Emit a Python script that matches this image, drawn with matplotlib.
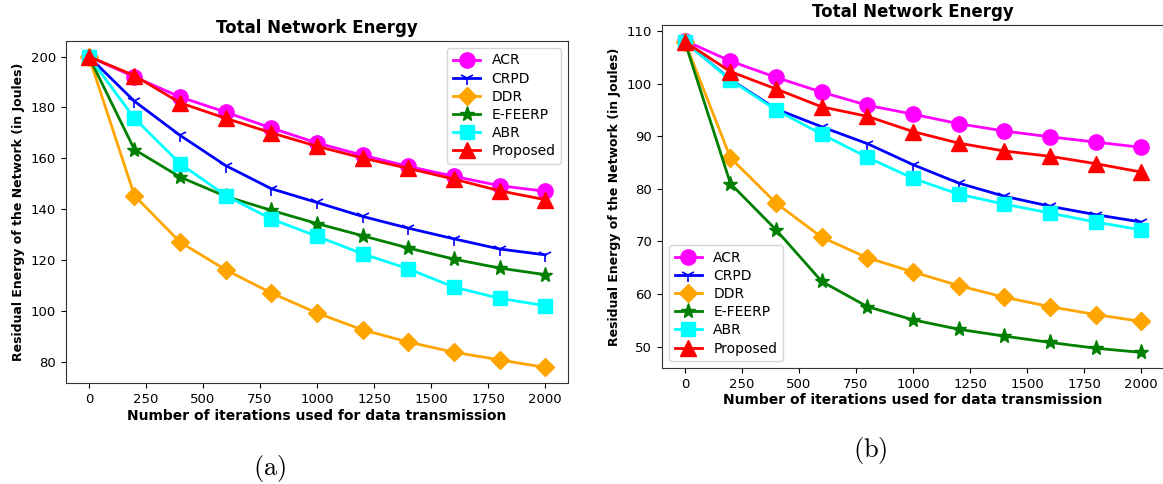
import matplotlib
matplotlib.use("Agg")
import matplotlib.pyplot as plt

iterations = [0, 200, 400, 600, 800, 1000, 1200, 1400, 1600, 1800, 2000]

# Panel (a)
acr_a = [200, 192.0, 184.1, 178.1, 171.9, 166.0, 161.2, 156.8, 152.9, 149.2, 147.0]
crpd_a = [200, 182.4, 169.0, 157.1, 148.0, 142.6, 137.1, 132.5, 128.3, 124.3, 122.0]
ddr_a = [200, 145.3, 127.0, 116.1, 107.0, 99.1, 92.5, 87.7, 83.7, 80.7, 77.7]
efeerp_a = [200, 163.4, 152.6, 145.0, 139.5, 134.3, 129.5, 124.7, 120.3, 116.8, 114.2]
abr_a = [200, 175.7, 157.9, 145.3, 136.1, 129.3, 122.4, 116.5, 109.3, 104.9, 102.0]
proposed_a = [200, 192.5, 181.8, 175.7, 170.0, 164.7, 160.1, 156.0, 151.8, 147.2, 143.7]

# Panel (b)
acr_b = [108.2, 104.3, 101.2, 98.4, 95.9, 94.2, 92.4, 91.0, 89.9, 88.9, 87.9]
crpd_b = [108.0, 100.8, 95.2, 91.8, 88.6, 84.6, 81.1, 78.6, 76.7, 75.1, 73.7]
ddr_b = [108.0, 85.9, 77.3, 70.8, 66.9, 64.2, 61.6, 59.4, 57.6, 56.1, 54.8]
efeerp_b = [108.0, 81.0, 72.2, 62.4, 57.6, 55.1, 53.3, 52.0, 50.8, 49.7, 48.9]
abr_b = [108.0, 100.7, 95.0, 90.4, 86.0, 82.0, 79.0, 77.1, 75.4, 73.7, 72.2]
proposed_b = [108.0, 102.3, 99.0, 95.6, 93.8, 90.9, 88.7, 87.2, 86.2, 84.8, 83.2]

labels = ["ACR", "CRPD", "DDR", "E-FEERP", "ABR", "Proposed"]
colors = ["magenta", "blue", "orange", "green", "cyan", "red"]
markers = ["o", "1", "D", "*", "s", "^"]

title = "Total Network Energy"
xlabel = "Number of iterations used for data transmission"
ylabel = "Residual Energy of the Network (in Joules)"

W, H = 1163, 484
fig = plt.figure(figsize=(W / 100, H / 100), dpi=100)
plt.rcParams["mathtext.fontset"] = "cm"

ax_a = fig.add_axes([66 / W, 1 - 383 / H, 502 / W, 342 / H])
ax_b = fig.add_axes([662 / W, 1 - 368 / H, 502 / W, 343 / H])

msizes = {"o": 11, "1": 10, "D": 9.5, "*": 11, "s": 10, "^": 11}

for ax, series, loc in [
    (ax_a, [acr_a, crpd_a, ddr_a, efeerp_a, abr_a, proposed_a], "upper right"),
    (ax_b, [acr_b, crpd_b, ddr_b, efeerp_b, abr_b, proposed_b], "lower left"),
]:
    for vals, lab, c, m in zip(series, labels, colors, markers):
        ax.plot(iterations, vals, color=c, marker=m, label=lab, lw=2,
                markersize=msizes[m], markeredgewidth=1.2 if m == "1" else 1,
                markeredgecolor=c)
    ax.set_title(title, fontsize=12, fontweight="bold", pad=6)
    ax.set_xlabel(xlabel, fontsize=10, fontweight="bold", labelpad=2)
    ax.set_ylabel(ylabel, fontsize=9, fontweight="bold")
    ax.tick_params(labelsize=9.5)
    for s in ax.spines.values():
        s.set_color("#333333")
    ax.set_xticks([0, 250, 500, 750, 1000, 1250, 1500, 1750, 2000])
    ax.legend(loc=loc, fontsize=10, labelspacing=0.3)

ax_a.set_yticks([80, 100, 120, 140, 160, 180, 200])
ax_b.set_yticks([50, 60, 70, 80, 90, 100, 110])

fig.text(270 / W, 1 - 469 / H, r"$\mathrm{(a)}$", fontsize=19, ha="center", va="center")
fig.text(870 / W, 1 - 451 / H, r"$\mathrm{(b)}$", fontsize=19, ha="center", va="center")

fig.savefig("out.png", dpi=100)
